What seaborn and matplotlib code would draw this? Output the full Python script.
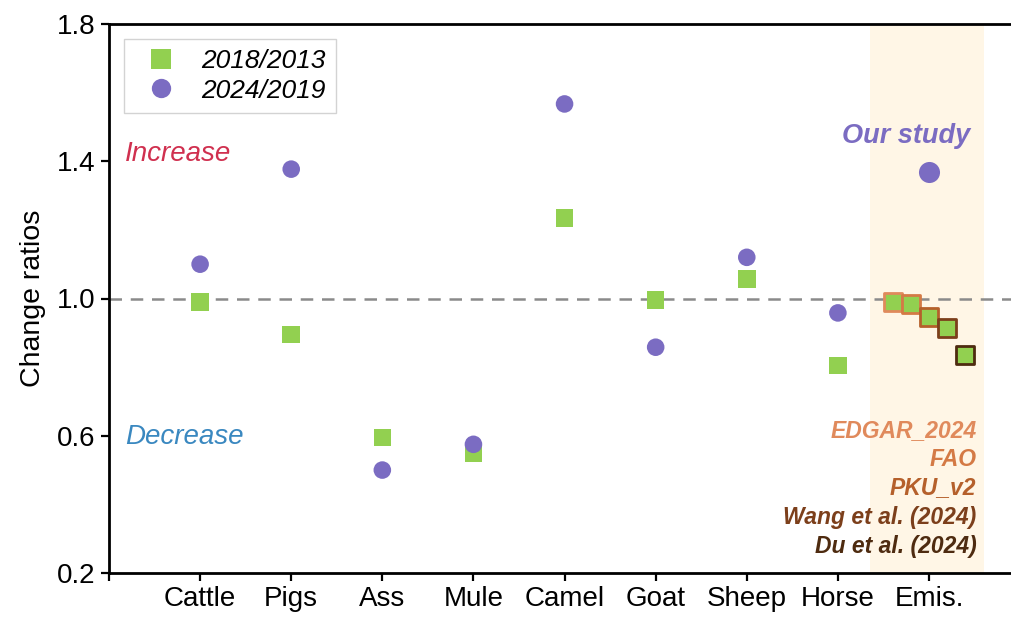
import matplotlib
matplotlib.use("Agg")
import matplotlib.pyplot as plt
import pandas as pd
import seaborn as sns

# data
animals = ["Cattle", "Pigs", "Ass", "Mule", "Camel", "Goat", "Sheep", "Horse"]
ratio_2018_2013 = [0.99, 0.895, 0.595, 0.55, 1.235, 0.995, 1.057, 0.805]
ratio_2024_2019 = [1.10, 1.377, 0.50, 0.575, 1.567, 0.858, 1.12, 0.958]

our_study = 1.37
inventories = ["EDGAR_2024", "FAO", "PKU_v2", "Wang et al. (2024)", "Du et al. (2024)"]
inventory_ratios = [0.99, 0.985, 0.945, 0.915, 0.835]
inventory_colors = ["#E08A5C", "#D47A45", "#B5602B", "#7C3F1B", "#4E2B10"]

tick_labels = animals + ["Emis."]

GREEN = "#92D050"
PURPLE = "#7B6CC2"


def build_frame():
    x = list(range(1, len(animals) + 1))
    df = pd.concat([
        pd.DataFrame({"x": x, "ratio": ratio_2018_2013, "period": "2018/2013"}),
        pd.DataFrame({"x": x, "ratio": ratio_2024_2019, "period": "2024/2019"}),
    ], ignore_index=True)
    return df


def plot_ratios(df):
    sns.set_style("ticks")
    plt.rcParams["font.family"] = ["Liberation Sans", "DejaVu Sans"]
    plt.rcParams["text.color"] = "black"
    plt.rcParams["axes.labelcolor"] = "black"
    plt.rcParams["xtick.color"] = "black"
    plt.rcParams["ytick.color"] = "black"

    fig = plt.figure(figsize=(10.11, 6.19), dpi=100)
    ax = fig.add_axes([109 / 1011, 46 / 619, 902 / 1011, 549 / 619])
    emis_x = len(animals) + 1

    ax.axvspan(emis_x - 0.65, emis_x + 0.6, color="#FFF6E6", zorder=0, lw=0)
    ax.axhline(1.0, color="#8A8A8A", ls=(0, (5, 3.5)), lw=1.8, zorder=1)

    sns.scatterplot(data=df, x="x", y="ratio", hue="period", style="period",
                    palette={"2018/2013": GREEN, "2024/2019": PURPLE},
                    markers={"2018/2013": "s", "2024/2019": "o"},
                    s=160, linewidth=0, ax=ax, zorder=3)

    # Emis. column: our study + other inventories
    sns.scatterplot(x=[emis_x], y=[our_study], color=PURPLE, s=230,
                    linewidth=0, ax=ax, legend=False, zorder=3)
    offsets = [-0.4, -0.2, 0.0, 0.2, 0.4]
    for off, val, col in zip(offsets, inventory_ratios, inventory_colors):
        ax.scatter(emis_x + off, val, marker="s", s=150, color=GREEN,
                   edgecolors=col, linewidths=2.0, zorder=4)

    ax.text(emis_x + 0.45, 1.475, "Our study", color=PURPLE, fontsize=19.5,
            fontweight="bold", fontstyle="italic", ha="right", va="center")
    text_y = [0.259, 0.206, 0.155, 0.102, 0.049]
    for name, col, ty in zip(inventories, inventory_colors, text_y):
        ax.text(emis_x + 0.52, ty, name, color=col, fontsize=16.5,
                fontweight="bold", fontstyle="italic", ha="right", va="center",
                transform=ax.get_xaxis_transform())

    ax.text(0.18, 1.42, "Increase", color="#D0304F", fontsize=20,
            fontstyle="italic", va="center")
    ax.text(0.18, 0.595, "Decrease", color="#3A88C0", fontsize=20,
            fontstyle="italic", va="center")

    ax.set_xlim(0, 9.9)
    ax.set_ylim(0.2, 1.8)
    ax.set_yticks([0.2, 0.6, 1.0, 1.4, 1.8])
    ax.set_xticks(range(0, len(tick_labels) + 1))
    ax.set_xticklabels([""] + tick_labels)
    ax.set_xlabel("")
    ax.set_ylabel("Change ratios", fontsize=20.5, labelpad=8)
    ax.tick_params(axis="both", labelsize=20, width=1.6, length=6, direction="out",
                   color="black", labelcolor="black")
    for side in ["left", "bottom", "top"]:
        ax.spines[side].set_linewidth(2)
        ax.spines[side].set_color("black")
    ax.spines["right"].set_visible(False)
    ax.grid(False)

    leg = ax.legend(loc="upper left", bbox_to_anchor=(0.017, 0.973), fontsize=19,
                    frameon=True, fancybox=False, edgecolor="#C8C8C8",
                    handletextpad=0.5, borderpad=0.4, labelspacing=0.2,
                    borderaxespad=0, markerscale=1.1)
    for t in leg.get_texts():
        t.set_fontstyle("italic")
    leg.get_frame().set_linewidth(1)

    fig.savefig("out.png", dpi=100)


def main():
    df = build_frame()
    plot_ratios(df)


if __name__ == "__main__":
    main()
